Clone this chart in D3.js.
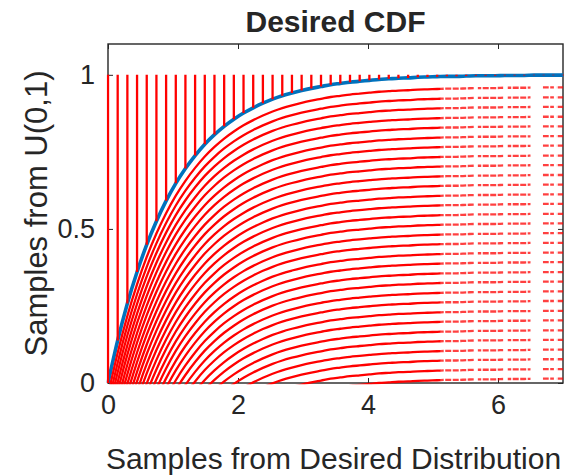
<!DOCTYPE html>
<html>
<head>
<meta charset="utf-8">
<script src="https://cdn.jsdelivr.net/npm/d3@7"></script>
<style>
  body { margin: 0; background: #ffffff; }
  svg { display: block; }
  text { font-family: "Liberation Sans", Arial, Helvetica, sans-serif; fill: #262626; }
</style>
</head>
<body>
<svg id="chart" width="577" height="475"></svg>
<script>
// ---- data ----
const cdfX = [0.000, 0.149, 0.298, 0.447, 0.596, 0.745, 0.894, 1.043, 1.191, 1.340,
              1.489, 1.638, 1.787, 1.936, 2.085, 2.234, 2.383, 2.532, 2.681, 2.830,
              2.979, 3.128, 3.277, 3.426, 3.574, 3.723, 3.872, 4.021, 4.170, 4.319,
              4.468, 4.617, 4.766, 4.915, 5.064, 5.213, 5.362, 5.511, 5.660, 5.809,
              5.957, 6.106, 6.255, 6.404, 6.553, 6.702, 6.851, 7.000];
const cdfY = [0.000, 0.138, 0.258, 0.360, 0.449, 0.525, 0.591, 0.648, 0.696, 0.738,
              0.775, 0.806, 0.833, 0.856, 0.876, 0.893, 0.908, 0.921, 0.932, 0.941,
              0.949, 0.956, 0.962, 0.968, 0.972, 0.976, 0.979, 0.982, 0.985, 0.987,
              0.989, 0.990, 0.992, 0.993, 0.994, 0.995, 0.995, 0.996, 0.997, 0.997,
              0.997, 0.998, 0.998, 0.998, 0.999, 0.999, 0.999, 0.999];
// downward offsets of the red copies of the CDF
const redOffsets = [0.040, 0.072, 0.103, 0.135, 0.166, 0.198, 0.229, 0.261, 0.292, 0.324,
                    0.355, 0.387, 0.418, 0.450, 0.481, 0.513, 0.544, 0.576, 0.607, 0.639,
                    0.670, 0.702, 0.733, 0.765, 0.796, 0.828, 0.859, 0.891, 0.922, 0.954,
                    0.985];
const verticalTop = 1;                 // red vertical lines start at u = 1
const solidRange = [[0, 5.12]];        // red copies drawn solid
const tailRanges = [[5.12, 5.64], [5.69, 6.08], [6.15, 6.50], [6.69, 6.86], [6.90, 7.00]];
const xTicks = [0, 2, 4, 6];
const xTickLabels = ["0", "2", "4", "6"];
const yTicks = [0, 0.5, 1];
const yTickLabels = ["0", "0.5", "1"];
const xDomain = [0, 7];
const yDomain = [0, 1.1];
const titleText = "Desired CDF";
const xLabelText = "Samples from Desired Distribution";
const yLabelText = "Samples from U(0,1)";

// ---- layout ----
const W = 577, H = 475;
const m = { left: 108, right: 14, top: 44, bottom: 92 };
const svg = d3.select("#chart");
const x = d3.scaleLinear().domain(xDomain).range([m.left, W - m.right]);
const y = d3.scaleLinear().domain(yDomain).range([H - m.bottom, m.top]);
const axisCol = "#262626";
const pts = cdfX.map((v, i) => [v, cdfY[i]]);

const defs = svg.append("defs");
defs.append("clipPath").attr("id", "plotClip").append("rect")
  .attr("x", x(0) - 1.5).attr("y", y(1.1)).attr("width", x(7) - x(0) + 3).attr("height", y(0) - y(1.1) + 1.5);
function rangeClip(id, ranges) {
  const cp = defs.append("clipPath").attr("id", id);
  ranges.forEach(r => cp.append("rect")
    .attr("x", x(r[0]) - (r[0] === 0 ? 1.5 : 0)).attr("y", y(1.1))
    .attr("width", x(r[1]) - x(r[0]) + (r[0] === 0 ? 1.5 : 0) + (r[1] === 7 ? 1.5 : 0))
    .attr("height", y(0) - y(1.1) + 1.5));
}
rangeClip("solidClip", solidRange);
rangeClip("tailClip", tailRanges);

// ---- box and ticks ----
svg.append("rect").attr("x", x(0)).attr("y", y(1.1))
  .attr("width", x(7) - x(0)).attr("height", y(0) - y(1.1))
  .attr("fill", "none").attr("stroke", axisCol).attr("stroke-width", 1.4);

function styleAxis(g) {
  g.select(".domain").remove();
  g.selectAll(".tick line").attr("stroke", axisCol).attr("stroke-width", 1);
  g.selectAll(".tick text").attr("fill", axisCol).style("font-size", "27px")
    .style("font-family", '"Liberation Sans", Arial, Helvetica, sans-serif');
}
svg.append("g").attr("transform", `translate(0,${y(0)})`)
  .call(d3.axisBottom(x).tickValues(xTicks).tickFormat((d, i) => xTickLabels[i])
    .tickSizeInner(-5).tickSizeOuter(0).tickPadding(12))
  .call(styleAxis);
svg.append("g").attr("transform", `translate(0,${y(1.1)})`)
  .call(d3.axisTop(x).tickValues(xTicks).tickFormat(() => "").tickSizeInner(-5).tickSizeOuter(0))
  .call(styleAxis);
svg.append("g").attr("transform", `translate(${x(0)},0)`)
  .call(d3.axisLeft(y).tickValues(yTicks).tickFormat((d, i) => yTickLabels[i])
    .tickSizeInner(-5).tickSizeOuter(0).tickPadding(13))
  .call(styleAxis);
svg.append("g").attr("transform", `translate(${x(7)},0)`)
  .call(d3.axisRight(y).tickValues(yTicks).tickFormat(() => "").tickSizeInner(-5).tickSizeOuter(0))
  .call(styleAxis);

// ---- plot contents ----
const plot = svg.append("g").attr("clip-path", "url(#plotClip)");
const line = d3.line().x(d => x(d[0])).y(d => y(d[1])).curve(d3.curveMonotoneX);

// blue CDF
plot.append("path").datum(pts)
  .attr("d", line).attr("fill", "none")
  .attr("stroke", "#0072BD").attr("stroke-width", 3.6);

// red shifted copies
const solidG = plot.append("g").attr("clip-path", "url(#solidClip)");
const tailG = plot.append("g").attr("clip-path", "url(#tailClip)");
[solidG, tailG].forEach((g, k) => {
  g.selectAll("path").data(redOffsets).join("path")
    .attr("d", off => line(pts.map(p => [p[0], p[1] - off])))
    .attr("fill", "none").attr("stroke", "#ff0000")
    .attr("stroke-width", 2.3)
    .attr("stroke-opacity", k === 0 ? 1 : 0.75)
    .attr("stroke-dasharray", k === 0 ? null : "6,1.5");
});

// red vertical lines from u = 1 down to the CDF
plot.selectAll("line.v").data(pts).join("line").attr("class", "v")
  .attr("x1", d => x(d[0])).attr("x2", d => x(d[0]))
  .attr("y1", y(verticalTop)).attr("y2", d => y(d[1]))
  .attr("stroke", "#ff0000").attr("stroke-width", 2.3);

// ---- texts ----
svg.append("text").attr("x", (x(0) + x(7)) / 2).attr("y", 32)
  .attr("text-anchor", "middle").style("font-size", "30px").style("font-weight", "bold")
  .text(titleText);
svg.append("text").attr("x", (x(0) + x(7)) / 2 - 2).attr("y", 469)
  .attr("text-anchor", "middle").style("font-size", "30px")
  .text(xLabelText);
svg.append("text")
  .attr("transform", `translate(47,${(y(0) + y(1.1)) / 2}) rotate(-90)`)
  .attr("text-anchor", "middle").style("font-size", "31px")
  .text(yLabelText);
</script>
</body>
</html>
